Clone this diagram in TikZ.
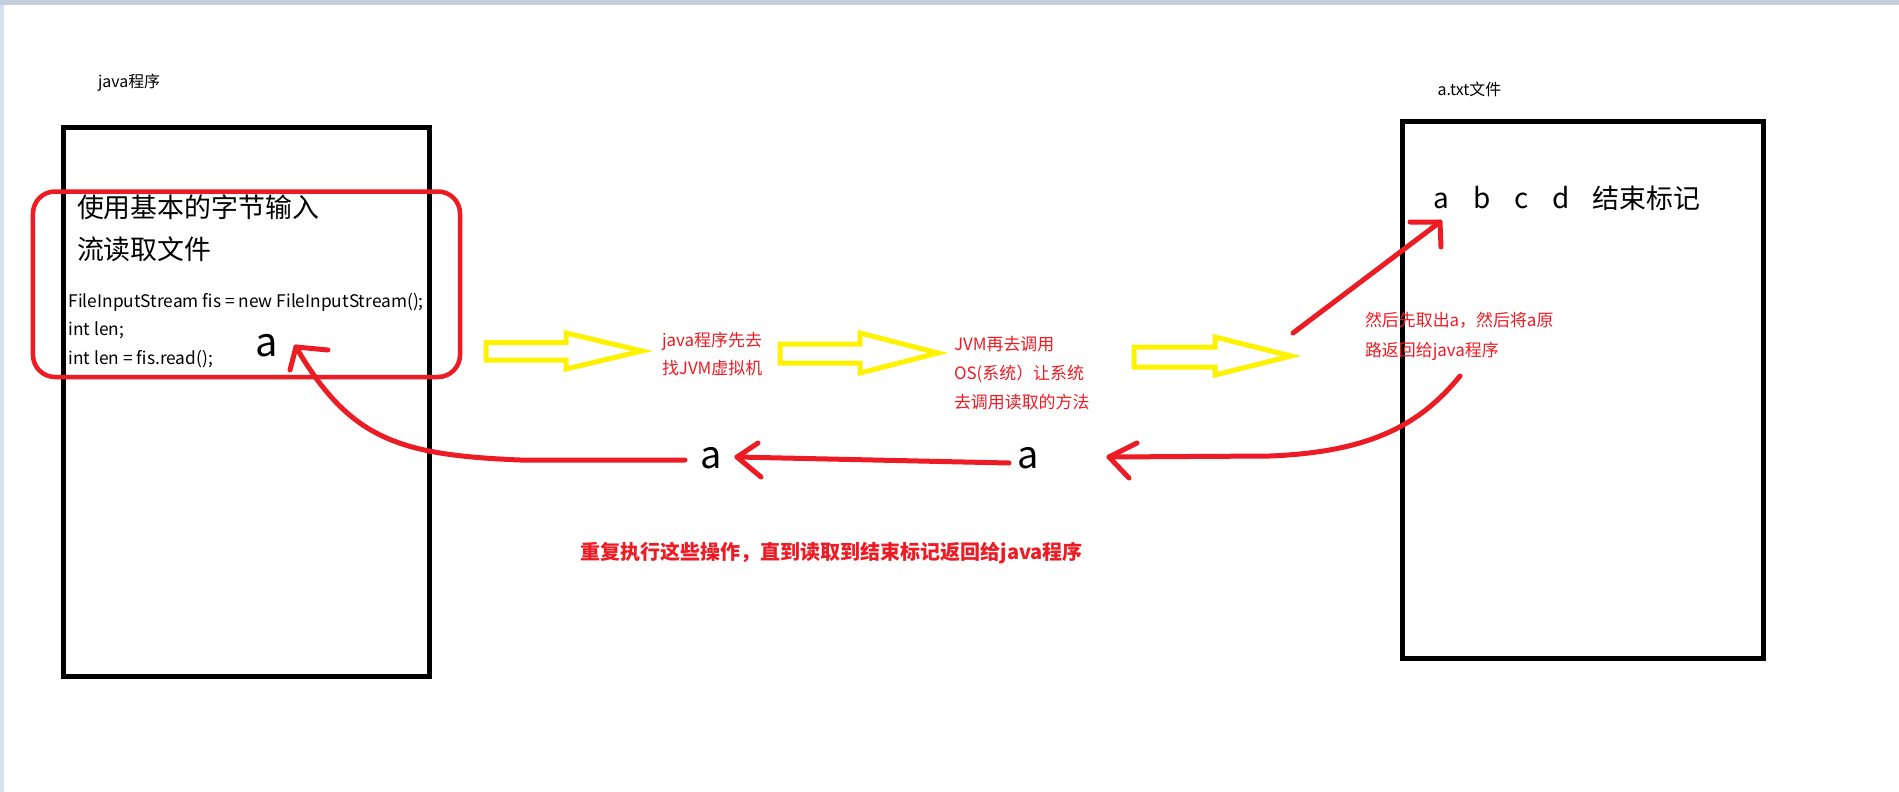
\documentclass[tikz,border=0pt]{standalone}
\usepackage{fontspec}
\setmainfont{Noto Sans CJK SC}
\definecolor{pred}{RGB}{237,28,36}
\definecolor{pyel}{RGB}{255,242,0}
\definecolor{frameA}{RGB}{197,206,223}
\definecolor{frameB}{RGB}{214,223,238}
\newcommand\myfs[1]{\fontsize{#1}{#1}\selectfont}
\tikzset{
  box/.style={draw=black,line width=5bp,inner sep=0pt},
  redbox/.style={draw=pred,line width=4.5bp,rounded corners=22bp,inner sep=0pt},
  redline/.style={draw=pred,line width=5bp,line cap=round,line join=round},
  yarrow/.style={draw=pyel,line width=5bp,line join=miter},
  txt/.style={anchor=base west,inner sep=0pt,outer sep=0pt},
  redtxt/.style={txt,text=pred,font=\myfs{17}},
}
\begin{document}
\begin{tikzpicture}[x=1bp,y=-1bp]
\fill[frameA] (0,0) rectangle (1899,792);
\fill[white] (4,5) rectangle (1899,792);
\fill[frameB] (0,5) rectangle (4,792);
\useasboundingbox (0,0) rectangle (1899,792);

% boxes
\node[box,minimum width=365.5bp,minimum height=548bp] (prog) at (246.25,402) {};
\node[box,minimum width=361bp,minimum height=537bp] (file) at (1583.1,390) {};
\node[redbox,minimum width=427bp,minimum height=185.5bp] (code) at (246.5,284.25) {};

% titles
\node[txt,font=\myfs{16}] (progT) at (98,88) {java程序};
\node[txt,font=\myfs{16}] (fileT) at (1437.6,95) {a.txt文件};

% left box content
\node[txt,font=\myfs{27}] (l1) at (77,217) {使用基本的字节输入};
\node[txt,font=\myfs{27}] (l2) at (77,259) {流读取文件};
\node[txt,font=\myfs{17.4}] (c1) at (68.5,307) {FileInputStream fis = new FileInputStream();};
\node[txt,font=\myfs{17.4}] (c2) at (68.5,335) {int len;};
\node[txt,font=\myfs{17.4}] (c3) at (68.5,364) {int len = fis.read();};
\node[txt,font=\myfs{40}] (aL) at (255,356) {a};

% right box content
\node[txt,font=\myfs{28}] (fa) at (1433.5,208) {a};
\node[txt,font=\myfs{28}] (fb) at (1473,208) {b};
\node[txt,font=\myfs{28}] (fc) at (1514,208) {c};
\node[txt,font=\myfs{28}] (fd) at (1552,208) {d};
\node[txt,font=\myfs{27}] (fe) at (1592.5,208) {结束标记};

% red explanations
\node[redtxt] (s1a) at (662,346) {java程序先去};
\node[redtxt] (s1b) at (662,374.5) {找JVM虚拟机};
\node[redtxt] (s2a) at (954,350) {JVM再去调用};
\node[redtxt] (s2b) at (954,379) {OS(系统）让系统};
\node[redtxt] (s2c) at (954,408) {去调用读取的方法};
\node[redtxt] (s3a) at (1365,326) {然后先取出a，然后将a原};
\node[redtxt] (s3b) at (1365,356) {路返回给java程序};
\node[txt,text=pred,font=\myfs{20.1}\bfseries] (rep) at (580,559) {重复执行这些操作，直到读取到结束标记返回给java程序};

% middle a's
\node[txt,font=\myfs{38}] (aM1) at (700,468) {a};
\node[txt,font=\myfs{38}] (aM2) at (1017,468) {a};

% yellow block arrows
\draw[yarrow] (486,342.5) -- (566,342.5) -- (566,333) -- (642,351) -- (566,369) -- (566,360) -- (486,360) -- cycle;
\draw[yarrow] (780,344) -- (860,344) -- (860,333) -- (938,353) -- (860,373) -- (860,363) -- (780,363) -- cycle;
\draw[yarrow] (1134,347) -- (1215,347) -- (1215,337) -- (1291,356) -- (1215,375) -- (1215,367) -- (1134,367) -- cycle;

% red arrow up to 'a' in file
\coordinate (t1) at (1440,222);
\draw[redline] (1293,333) -- (t1);
\draw[redline] (1410,222) -- (t1) -- (1441,247);

% red return arrow from file
\coordinate (t2) at (1109,457);
\draw[redline] (1460,376) .. controls (1420,425) and (1370,452) .. (1270,456) -- (t2);
\draw[redline] (1137,443) -- (t2) -- (1129,478);

% red arrow middle
\coordinate (t3) at (737,457);
\draw[redline] (1009,463) -- (t3);
\draw[redline] (758,443) -- (t3) -- (761,477);

% red arrow to left box a
\coordinate (t4) at (296,347);
\draw[redline] (685,460) -- (520,460) .. controls (400,455) and (350,440) .. (t4);
\draw[redline] (328,350) -- (t4) -- (290,370);
\end{tikzpicture}
\end{document}
